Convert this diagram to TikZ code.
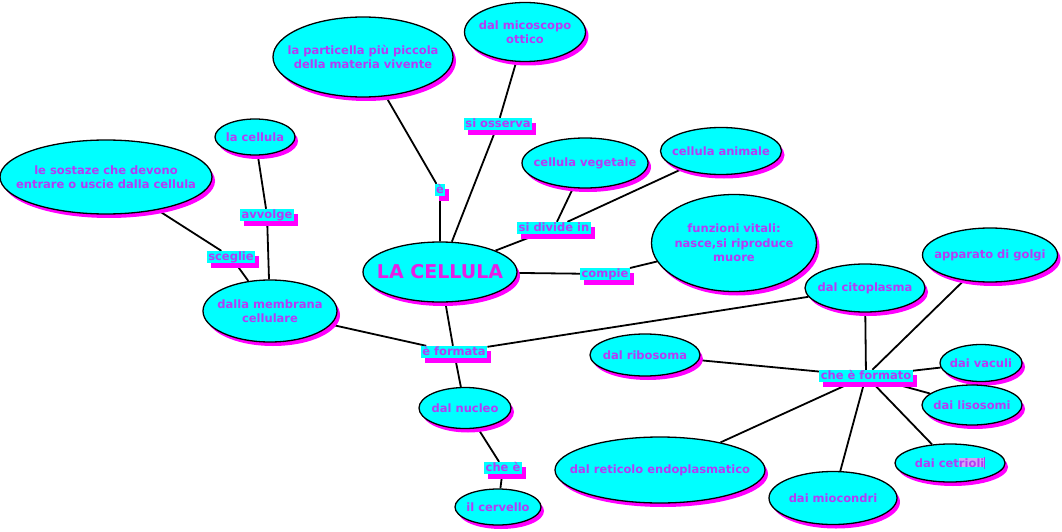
\documentclass[tikz,border=0pt]{standalone}
\usepackage{fontspec}
\setmainfont{DejaVu Sans}
\usetikzlibrary{shapes.geometric,shadows,backgrounds}
\definecolor{cyanfill}{HTML}{00FFFF}
\definecolor{shadowpink}{HTML}{FF00FF}
\definecolor{wordpurple}{HTML}{B43CF5}
\definecolor{titlepink}{HTML}{E61EE6}
\definecolor{selectlilac}{HTML}{CDA8F4}
\begin{document}
\begin{tikzpicture}[x=1pt,y=-1pt,
	concept/.style={ellipse,draw=black,line width=1.3pt,fill=cyanfill,inner sep=0pt,
		drop shadow={shadow xshift=3pt,shadow yshift=-4pt,fill=shadowpink,opacity=1}},
	word/.style={text=wordpurple,align=center,font=\bfseries\fontsize{11.5}{14.5}\selectfont},
	link/.style={rectangle,fill=cyanfill,inner xsep=1.5pt,inner ysep=0.5pt,text height=9pt,text depth=2pt,
		drop shadow={shadow xshift=4pt,shadow yshift=-5pt,fill=shadowpink,opacity=1},
		text=wordpurple,font=\bfseries\fontsize{11.5}{14}\selectfont},
	wire/.style={line width=1.8pt}]
	\useasboundingbox (0,0) rectangle (1062,532);
	\node[concept,minimum width=154,minimum height=60,
		label={[text=titlepink,font=\bfseries\fontsize{19}{22}\selectfont]center:LA CELLULA}] (cell) at (440,272) {};
	\node[concept,minimum width=180,minimum height=80,
		label={[word]center:la particella più piccola\\della materia vivente}] (small) at (363,57) {};
	\node[concept,minimum width=121,minimum height=59,
		label={[word]center:dal micoscopo\\ottico}] (scope) at (525,32) {};
	\node[concept,minimum width=126,minimum height=50,
		label={[word]center:cellula vegetale}] (plant) at (585,163) {};
	\node[concept,minimum width=121,minimum height=47,
		label={[word]center:cellula animale}] (animal) at (721,151) {};
	\node[concept,minimum width=165,minimum height=97,
		label={[word]center:funzioni vitali:\\nasce,si riproduce\\muore}] (vital) at (734,243) {};
	\node[concept,minimum width=135,minimum height=54,
		label={[word]center:apparato di golgi}] (golgi) at (990,255) {};
	\node[concept,minimum width=120,minimum height=48,
		label={[word]center:dal citoplasma}] (cyto) at (865,288) {};
	\node[concept,minimum width=110,minimum height=42,
		label={[word]center:dal ribosoma}] (ribo) at (645,355) {};
	\node[concept,minimum width=82,minimum height=37,
		label={[word]center:dai vaculi}] (vacu) at (981,363) {};
	\node[concept,minimum width=100,minimum height=40,
		label={[word]center:dai lisosomi}] (liso) at (972,405) {};
	\node[concept,minimum width=110,minimum height=38,
		label={[word]center:dai cet{\setlength\fboxsep{0pt}\colorbox{selectlilac}{rioli}}\rule[-2pt]{0.7pt}{12pt}}] (centri) at (950,463) {};
	\node[concept,minimum width=128,minimum height=53,
		label={[word]center:dai miocondri}] (mito) at (833,498) {};
	\node[concept,minimum width=210,minimum height=66,
		label={[word]center:dal reticolo endoplasmatico}] (retic) at (660,470) {};
	\node[concept,minimum width=92,minimum height=41,
		label={[word]center:dal nucleo}] (nucleus) at (465,408) {};
	\node[concept,minimum width=86,minimum height=36,
		label={[word]center:il cervello}] (brain) at (498,507) {};
	\node[concept,minimum width=134,minimum height=62,
		label={[word]center:dalla membrana\\cellulare}] (membrane) at (270,311) {};
	\node[concept,minimum width=80,minimum height=36,
		label={[word]center:la cellula}] (wrapped) at (255,137) {};
	\node[concept,minimum width=212,minimum height=74,
		label={[word]center:le sostaze che devono\\entrare o uscie dalla cellula}] (substances) at (106,177) {};
	\node[link] (is) at (440,190) {è};
	\node[link] (observed) at (498,124) {si osserva};
	\node[link] (divides) at (554,228) {si divide in};
	\node[link] (performs) at (605,274) {compie};
	\node[link] (madeof) at (454,352) {è formata};
	\node[link] (whichis) at (503,468) {che è};
	\node[link] (wraps) at (267,215) {avvolge};
	\node[link] (chooses) at (231,257) {sceglie};
	\node[link] (composed) at (866,376) {che è formato};
	\begin{scope}[on background layer]
		\draw[wire] (cell) -- (is) -- (small);
		\draw[wire] (cell) -- (observed) -- (scope);
		\draw[wire] (cell) -- (divides) -- (plant);
		\draw[wire] (divides) -- (animal);
		\draw[wire] (cell) -- (performs) -- (vital);
		\draw[wire] (cell) -- (madeof) -- (membrane);
		\draw[wire] (madeof) -- (cyto);
		\draw[wire] (madeof) -- (nucleus) -- (whichis) -- (brain);
		\draw[wire] (membrane) -- (wraps) -- (wrapped);
		\draw[wire] (membrane) -- (chooses) -- (substances);
		\draw[wire] (cyto) -- (composed);
		\draw[wire] (composed) -- (golgi);
		\draw[wire] (composed) -- (ribo);
		\draw[wire] (composed) -- (vacu);
		\draw[wire] (composed) -- (liso);
		\draw[wire] (composed) -- (centri);
		\draw[wire] (composed) -- (mito);
		\draw[wire] (composed) -- (retic);
	\end{scope}
\end{tikzpicture}
\end{document}
